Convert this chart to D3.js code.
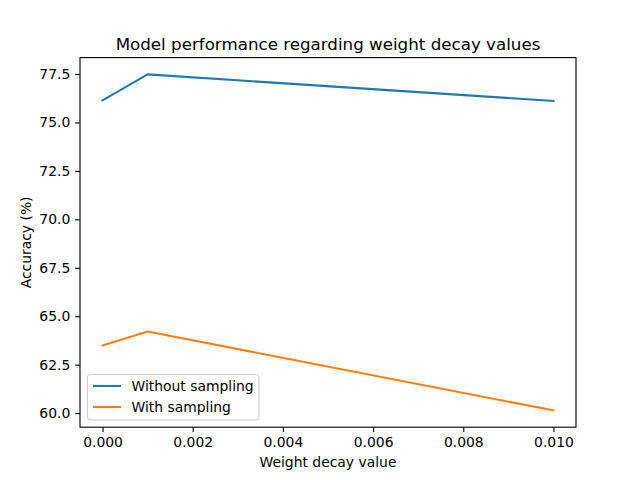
<!DOCTYPE html>
<html><head><meta charset="utf-8">
<script src="https://cdn.jsdelivr.net/npm/d3@7/dist/d3.min.js"></script>
<style>body{margin:0;background:#fff}svg{display:block}</style>
</head><body>
<svg id="c" width="640" height="480"></svg>
<script>
const weightDecay = [0, 0.001, 0.01];
const withoutSampling = [76.14, 77.48, 76.11];
const withSampling = [63.49, 64.21, 60.14];
const seriesNames = ["Without sampling", "With sampling"];
const seriesColors = ["#1f77b4", "#ff7f0e"];
const xTicks = [0, 0.002, 0.004, 0.006, 0.008, 0.010];
const yTicks = [60.0, 62.5, 65.0, 67.5, 70.0, 72.5, 75.0, 77.5];

const svg = d3.select("#c");
const L = 80, R = 576, T = 57.6, B = 427.2;
const font = "DejaVu Sans, sans-serif";

const xs = d3.scaleLinear().domain([-0.0005, 0.0105]).range([L, R]);
const all = withoutSampling.concat(withSampling);
const mn = d3.min(all), mx = d3.max(all), pad = (mx - mn) * 0.05;
const ys = d3.scaleLinear().domain([mn - pad, mx + pad]).range([B, T]);

const line = d3.line().x((d, i) => xs(weightDecay[i])).y(d => ys(d));
[withoutSampling, withSampling].forEach((s, k) => {
  svg.append("path").attr("d", line(s)).attr("fill", "none")
    .attr("stroke", seriesColors[k]).attr("stroke-width", 2.08)
    .attr("stroke-linecap", "square").attr("stroke-linejoin", "round");
});

const xAxis = d3.axisBottom(xs).tickValues(xTicks).tickFormat(d3.format(".3f")).tickSize(4.86).tickPadding(4.86);
const gx = svg.append("g").attr("transform", `translate(0,${B})`).call(xAxis);
const yAxis = d3.axisLeft(ys).tickValues(yTicks).tickFormat(d3.format(".1f")).tickSize(4.86).tickPadding(4.86);
const gy = svg.append("g").attr("transform", `translate(${L},0)`).call(yAxis);
[gx, gy].forEach(g => {
  g.select(".domain").remove();
  g.selectAll("line").attr("stroke", "#000").attr("stroke-width", 1.1);
  g.selectAll("text").attr("font-family", font).attr("font-size", 13.9).attr("fill", "#000");
});

svg.append("rect").attr("x", L).attr("y", T).attr("width", R - L).attr("height", B - T)
  .attr("fill", "none").attr("stroke", "#000").attr("stroke-width", 1.1);

svg.append("text").attr("x", (L + R) / 2).attr("y", 49.5).attr("text-anchor", "middle")
  .attr("font-family", font).attr("font-size", 16.7).text("Model performance regarding weight decay values");
svg.append("text").attr("x", (L + R) / 2).attr("y", 467).attr("text-anchor", "middle")
  .attr("font-family", font).attr("font-size", 13.9).text("Weight decay value");
svg.append("text").attr("transform", `translate(31,${(T + B) / 2}) rotate(-90)`).attr("text-anchor", "middle")
  .attr("font-family", font).attr("font-size", 13.9).text("Accuracy (%)");

const lg = svg.append("g");
lg.append("rect").attr("x", 87.5).attr("y", 374.5).attr("width", 171.5).attr("height", 45.5)
  .attr("rx", 2.8).attr("fill", "#fff").attr("fill-opacity", 0.8).attr("stroke", "#ccc").attr("stroke-width", 1);
seriesNames.forEach((n, k) => {
  const yy = 386 + k * 21;
  lg.append("line").attr("x1", 93).attr("x2", 121).attr("y1", yy).attr("y2", yy)
    .attr("stroke", seriesColors[k]).attr("stroke-width", 2.08);
  lg.append("text").attr("x", 131.5).attr("y", yy + 5).attr("font-family", font)
    .attr("font-size", 13.9).text(n);
});
</script>
</body></html>
